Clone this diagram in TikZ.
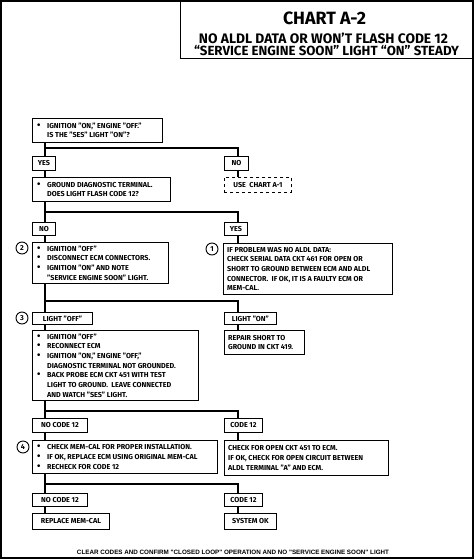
\documentclass[tikz,border=0pt]{standalone}
\usepackage{fontspec}
\setmainfont{Fira Sans}
\newfontfamily\footfont{Liberation Sans}
\newcommand\bxf{\fontsize{7.2}{9.7}\selectfont\bfseries}
\newcommand\bl{\makebox[11pt][l]{\hspace{1pt}\scalebox{1.35}{\textbullet}}}
\newcommand\ind{\hspace*{11pt}}
% box with its text: [options] name, x, y, w, h, text
\newcommand\tbox[7][]{%
  \node[box,#1,minimum width=#5pt,minimum height=#6pt] (#2) at (#3,#4) {};
  \node[btext] (#2t) at ([xshift=4pt]#2.west) {#7};}
\begin{document}
\begin{tikzpicture}[x=1pt,y=-1pt,
  box/.style={draw,line width=0.9pt,anchor=north west,inner sep=0pt},
  btext/.style={anchor=west,inner sep=0pt,align=left,font=\bxf},
  tagbox/.style={draw,line width=0.9pt,anchor=north west,inner sep=0pt,font=\bxf},
  conn/.style={line width=1.8pt},
  circ/.style={draw,circle,line width=0.9pt,minimum size=12pt,inner sep=0pt,font=\bxf},
  ttl/.style={inner sep=0pt,font=\bfseries}]
\useasboundingbox (0,0) rectangle (474,559);
% outer frame
\draw[line width=2pt] (1,1) rectangle (472.5,557.5);
% title
\node[draw,line width=1pt,anchor=north west,minimum width=292pt,minimum height=57pt,inner sep=0pt] (tb) at (180,1) {};
\node[ttl] (t1) at (324.5,18) {\resizebox{83pt}{!}{\fontsize{15.5}{16}\selectfont CHART A-2}};
\node[ttl] (t2) at (323.5,38) {\resizebox{249pt}{!}{\fontsize{11}{12}\selectfont NO ALDL DATA OR WON’T FLASH CODE 12}};
\node[ttl] (t3) at (326.5,51) {\resizebox{265pt}{!}{\fontsize{11}{12}\selectfont “SERVICE ENGINE SOON” LIGHT “ON” STEADY}};

% boxes
\tbox{q1}{32}{118}{130}{24}{\bl IGNITION "ON," ENGINE "OFF."\\\ind IS THE "SES" LIGHT "ON"?}
\node[tagbox,minimum width=23pt,minimum height=14pt] (yes1) at (32,156) {YES};
\node[tagbox,minimum width=24pt,minimum height=14pt] (no1) at (224,156) {NO};
\tbox{q2}{32}{177}{138}{24}{\bl GROUND DIAGNOSTIC TERMINAL.\\\ind DOES LIGHT FLASH CODE 12?}
\node[tagbox,dashed,minimum width=67pt,minimum height=15pt] (a1) at (224,177) {USE\ \ CHART A-1};
\node[tagbox,minimum width=23pt,minimum height=13pt] (no2) at (32,222) {NO};
\node[tagbox,minimum width=23pt,minimum height=13pt] (yes2) at (224,222) {YES};
\tbox{b2}{32}{242}{136}{41}{\bl IGNITION "OFF"\\\bl DISCONNECT ECM CONNECTORS.\\\bl IGNITION "ON" AND NOTE\\\ind "SERVICE ENGINE SOON" LIGHT.}
\tbox{b1}{223}{243}{169}{51}{IF PROBLEM WAS NO ALDL DATA:\\CHECK SERIAL DATA CKT 461 FOR OPEN OR\\SHORT TO GROUND BETWEEN ECM AND ALDL\\CONNECTOR.\ \ IF OK, IT IS A FAULTY ECM OR\\MEM-CAL.}
\node[circ] (c2) at (22,248) {2};
\node[circ] (c1) at (212,249) {1};
\node[tagbox,minimum width=60pt,minimum height=12pt] (off3) at (32,312) {LIGHT "OFF"};
\node[tagbox,minimum width=52pt,minimum height=12pt] (on3) at (224,312) {LIGHT "ON"};
\node[circ] (c3) at (22,318) {3};
\tbox{b3}{32}{330}{166}{70}{\bl IGNITION "OFF"\\\bl RECONNECT ECM\\\bl IGNITION "ON," ENGINE "OFF,"\\\ind DIAGNOSTIC TERMINAL NOT GROUNDED.\\\bl BACK PROBE ECM CKT 451 WITH TEST\\\ind LIGHT TO GROUND.\ \ LEAVE CONNECTED\\\ind AND WATCH "SES" LIGHT.}
\tbox{rep}{224}{330}{80}{24}{REPAIR SHORT TO\\GROUND IN CKT 419.}
\node[tagbox,minimum width=55pt,minimum height=14pt] (nc4) at (32,418) {NO CODE 12};
\node[tagbox,minimum width=38pt,minimum height=14pt] (cd4) at (224,418) {CODE 12};
\tbox{b4}{32}{440}{185}{33}{\bl CHECK MEM-CAL FOR PROPER INSTALLATION.\\\bl IF OK, REPLACE ECM USING ORIGINAL MEM-CAL\\\bl RECHECK FOR CODE 12}
\node[circ] (c4) at (23,447) {4};
\tbox{chk}{224}{440}{164}{35}{CHECK FOR OPEN CKT 451 TO ECM.\\IF OK, CHECK FOR OPEN CIRCUIT BETWEEN\\ALDL TERMINAL "A" AND ECM.}
\node[tagbox,minimum width=55pt,minimum height=13pt] (nc5) at (32,493) {NO CODE 12};
\node[tagbox,minimum width=38pt,minimum height=13pt] (cd5) at (224,493) {CODE 12};
\node[tagbox,minimum width=77pt,minimum height=16pt] (rm) at (32,513) {REPLACE MEM-CAL};
\node[tagbox,minimum width=52pt,minimum height=16pt] (ok) at (224,513) {SYSTEM OK};
% footer
\node[inner sep=0pt] (ft) at (233,552) {\resizebox{312pt}{!}{\footfont\bfseries\fontsize{6}{7}\selectfont CLEAR CODES AND CONFIRM "CLOSED LOOP" OPERATION AND NO "SERVICE ENGINE SOON" LIGHT}};

% junction coordinates
\coordinate (j1) at (45,148);
\coordinate (j2) at (45,212);
\coordinate (j3) at (45,301);
\coordinate (j4) at (45,411);
\coordinate (j5) at (45,484);

% connectors
\draw[conn] ([xshift=13pt]q1.south west) -- ([xshift=13pt]yes1.north west);
\draw[conn] (j1) -| ([xshift=14pt]no1.north west);
\draw[conn] ([xshift=13pt]yes1.south west) -- ([xshift=13pt]q2.north west);
\draw[conn] ([xshift=14pt]no1.south west) -- ([xshift=14pt]a1.north west);
\draw[conn] ([xshift=13pt]q2.south west) -- ([xshift=13pt]no2.north west);
\draw[conn] (j2) -| ([xshift=14pt]yes2.north west);
\draw[conn] ([xshift=13pt]no2.south west) -- ([xshift=13pt]b2.north west);
\draw[conn] ([xshift=14pt]yes2.south west) -- ([xshift=15pt]b1.north west);
\draw[conn] ([xshift=13pt]b2.south west) -- ([xshift=13pt]off3.north west);
\draw[conn] (j3) -| ([xshift=14pt]on3.north west);
\draw[conn] ([xshift=13pt]off3.south west) -- ([xshift=13pt]b3.north west);
\draw[conn] ([xshift=14pt]on3.south west) -- ([xshift=14pt]rep.north west);
\draw[conn] ([xshift=13pt]b3.south west) -- ([xshift=13pt]nc4.north west);
\draw[conn] (j4) -| ([xshift=14pt]cd4.north west);
\draw[conn] ([xshift=13pt]nc4.south west) -- ([xshift=13pt]b4.north west);
\draw[conn] ([xshift=14pt]cd4.south west) -- ([xshift=14pt]chk.north west);
\draw[conn] ([xshift=13pt]b4.south west) -- ([xshift=13pt]nc5.north west);
\draw[conn] (j5) -| ([xshift=14pt]cd5.north west);
\draw[conn] ([xshift=13pt]nc5.south west) -- ([xshift=13pt]rm.north west);
\draw[conn] ([xshift=14pt]cd5.south west) -- ([xshift=14pt]ok.north west);
\end{tikzpicture}
\end{document}
